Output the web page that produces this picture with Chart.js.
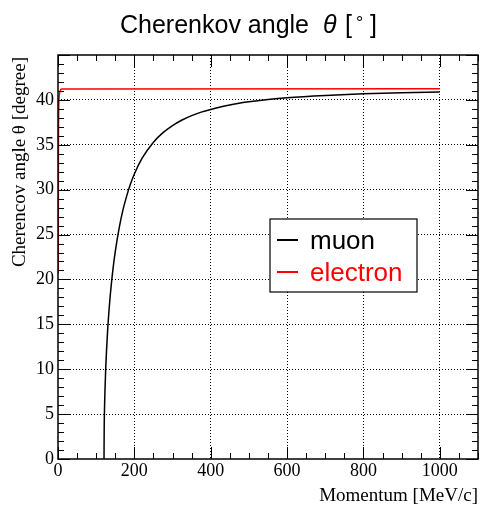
<!DOCTYPE html>
<html>
<head>
<meta charset="utf-8">
<script src="https://cdn.jsdelivr.net/npm/chart.js@4.4.0/dist/chart.umd.min.js"></script>
<style>
  html, body { margin: 0; padding: 0; background: #fff; }
  #wrap { width: 481px; height: 507px; }
</style>
</head>
<body>
<div id="wrap"><canvas id="c" width="481" height="507"></canvas></div>
<script>
// momentum [MeV/c] / angle [deg]
const muonP = [120.5, 121, 122, 123, 125, 130, 135, 140, 145, 150, 160, 170, 180, 190, 200, 220, 250, 275, 300, 325, 350, 375, 400, 450, 500, 550, 600, 700, 800, 900, 1000];
const muonTheta = [0, 3.44, 5.93, 7.60, 10.10, 14.33, 17.29, 19.61, 21.52, 23.11, 25.70, 27.72, 29.31, 30.65, 31.75, 33.48, 35.29, 36.35, 37.14, 37.76, 38.25, 38.64, 38.94, 39.44, 39.78, 40.04, 40.24, 40.50, 40.68, 40.80, 40.88];
const elecP = [0.7, 1, 2, 3, 5, 10, 1000];
const elecTheta = [20.7, 32.3, 39.1, 40.3, 40.9, 41.2, 41.25];

// graduations
const xTicks = [0, 200, 400, 600, 800, 1000];
const yTicks = [0, 5, 10, 15, 20, 25, 30, 35, 40];
const xMin = 0, xMax = 1100, xMinor = 50;
const yMin = 0, yMax = 45, yMinor = 1;

const SERIF = '"Liberation Serif", "Times New Roman", serif';
const SANS = '"Liberation Sans", Arial, sans-serif';

function toPts(xs, ys) {
    return xs.map((x, i) => ({ x: x, y: ys[i] }));
}

// cadre, graduations, titres et légende à la ROOT
const rootFrame = {
    id: 'rootFrame',
    afterDraw(chart) {
        const ctx = chart.ctx;
        const a = chart.chartArea;
        const xs = chart.scales.x, ys = chart.scales.y;
        ctx.save();
        ctx.strokeStyle = '#000';

        // ticks x (haut et bas)
        ctx.lineWidth = 1;
        for (let v = xMin; v <= xMax; v += xMinor) {
            const px = Math.round(xs.getPixelForValue(v)) + 0.5;
            const len = xTicks.includes(v) ? 12 : 6;
            ctx.beginPath();
            ctx.moveTo(px, a.bottom); ctx.lineTo(px, a.bottom - len);
            ctx.moveTo(px, a.top); ctx.lineTo(px, a.top + len);
            ctx.stroke();
        }
        // ticks y (gauche et droite)
        for (let v = yMin; v <= yMax; v += yMinor) {
            const py = Math.round(ys.getPixelForValue(v)) + 0.5;
            const len = (v % 5 === 0) ? 12 : 6;
            ctx.beginPath();
            ctx.moveTo(a.left, py); ctx.lineTo(a.left + len, py);
            ctx.moveTo(a.right, py); ctx.lineTo(a.right - len, py);
            ctx.stroke();
        }

        // cadre
        ctx.lineWidth = 1.5;
        ctx.strokeRect(a.left, a.top, a.right - a.left, a.bottom - a.top);

        // titre
        ctx.fillStyle = '#000';
        ctx.textBaseline = 'alphabetic';
        ctx.textAlign = 'left';
        ctx.font = '25px ' + SANS;
        ctx.fillText('Cherenkov angle', 120, 33);
        ctx.fillText('[', 345, 33);
        ctx.fillText(']', 370, 33);
        ctx.font = '18px ' + SANS;
        ctx.fillText('°', 356, 29);
        ctx.font = 'italic 25px ' + SANS;
        ctx.fillText('θ', 323, 33);

        // titre axe x
        ctx.font = '19px ' + SERIF;
        ctx.textAlign = 'right';
        ctx.fillText('Momentum [MeV/c]', a.right, 501);

        // titre axe y
        ctx.save();
        ctx.translate(25, a.top + 2);
        ctx.rotate(-Math.PI / 2);
        ctx.textAlign = 'right';
        ctx.font = '19px ' + SERIF;
        ctx.fillText('Cherencov angle θ [degree]', 0, 0);
        ctx.restore();

        // légende
        const lx = 270, ly = 219, lw = 147, lh = 73;
        ctx.fillStyle = '#fff';
        ctx.fillRect(lx, ly, lw, lh);
        ctx.lineWidth = 1.2;
        ctx.strokeStyle = '#000';
        ctx.strokeRect(lx, ly, lw, lh);
        ctx.font = '26px ' + SANS;
        ctx.textAlign = 'left';
        chart.data.datasets.forEach((ds, i) => {
            const yy = ly + 21 + i * 32;
            ctx.strokeStyle = ds.borderColor;
            ctx.lineWidth = 2;
            ctx.beginPath();
            ctx.moveTo(lx + 7, yy); ctx.lineTo(lx + 28, yy);
            ctx.stroke();
            ctx.fillStyle = ds.borderColor;
            ctx.fillText(ds.label, lx + 40, yy + 9);
        });
        ctx.restore();
    }
};

const gridColor = (c) => {
    const v = c.tick ? c.tick.value : null;
    return v === 0 ? 'rgba(0,0,0,0)' : '#000';
};

new Chart(document.getElementById('c').getContext('2d'), {
    type: 'scatter',
    data: {
        datasets: [
            {
                label: 'muon',
                data: toPts(muonP, muonTheta),
                borderColor: '#000',
                backgroundColor: '#000',
                showLine: true,
                pointRadius: 0,
                borderWidth: 1.5,
                cubicInterpolationMode: 'monotone'
            },
            {
                label: 'electron',
                data: toPts(elecP, elecTheta),
                borderColor: '#ff0000',
                backgroundColor: '#ff0000',
                showLine: true,
                pointRadius: 0,
                borderWidth: 1.5,
                cubicInterpolationMode: 'monotone'
            }
        ]
    },
    options: {
        responsive: false,
        animation: false,
        layout: { padding: { left: 0, top: 55, right: 3, bottom: 0 } },
        plugins: {
            legend: { display: false },
            tooltip: { enabled: false }
        },
        scales: {
            x: {
                type: 'linear',
                min: xMin, max: xMax,
                afterFit: (s) => { s.height = 48; },
                afterBuildTicks: (s) => { s.ticks = xTicks.map(v => ({ value: v })); },
                grid: { color: gridColor, lineWidth: 1, drawTicks: false },
                border: { display: false, dash: [1, 2] },
                ticks: {
                    padding: 1,
                    autoSkip: false,
                    color: '#000',
                    font: { family: SERIF, size: 18 },
                    maxRotation: 0,
                    callback: (v) => String(v)
                }
            },
            y: {
                type: 'linear',
                min: yMin, max: yMax,
                afterFit: (s) => { s.width = 58; },
                afterBuildTicks: (s) => { s.ticks = yTicks.map(v => ({ value: v })); },
                grid: { color: gridColor, lineWidth: 1, drawTicks: false },
                border: { display: false, dash: [1, 2] },
                ticks: {
                    padding: 4,
                    autoSkip: false,
                    color: '#000',
                    font: { family: SERIF, size: 18 },
                    callback: (v) => String(v)
                }
            }
        }
    },
    plugins: [rootFrame]
});
</script>
</body>
</html>
